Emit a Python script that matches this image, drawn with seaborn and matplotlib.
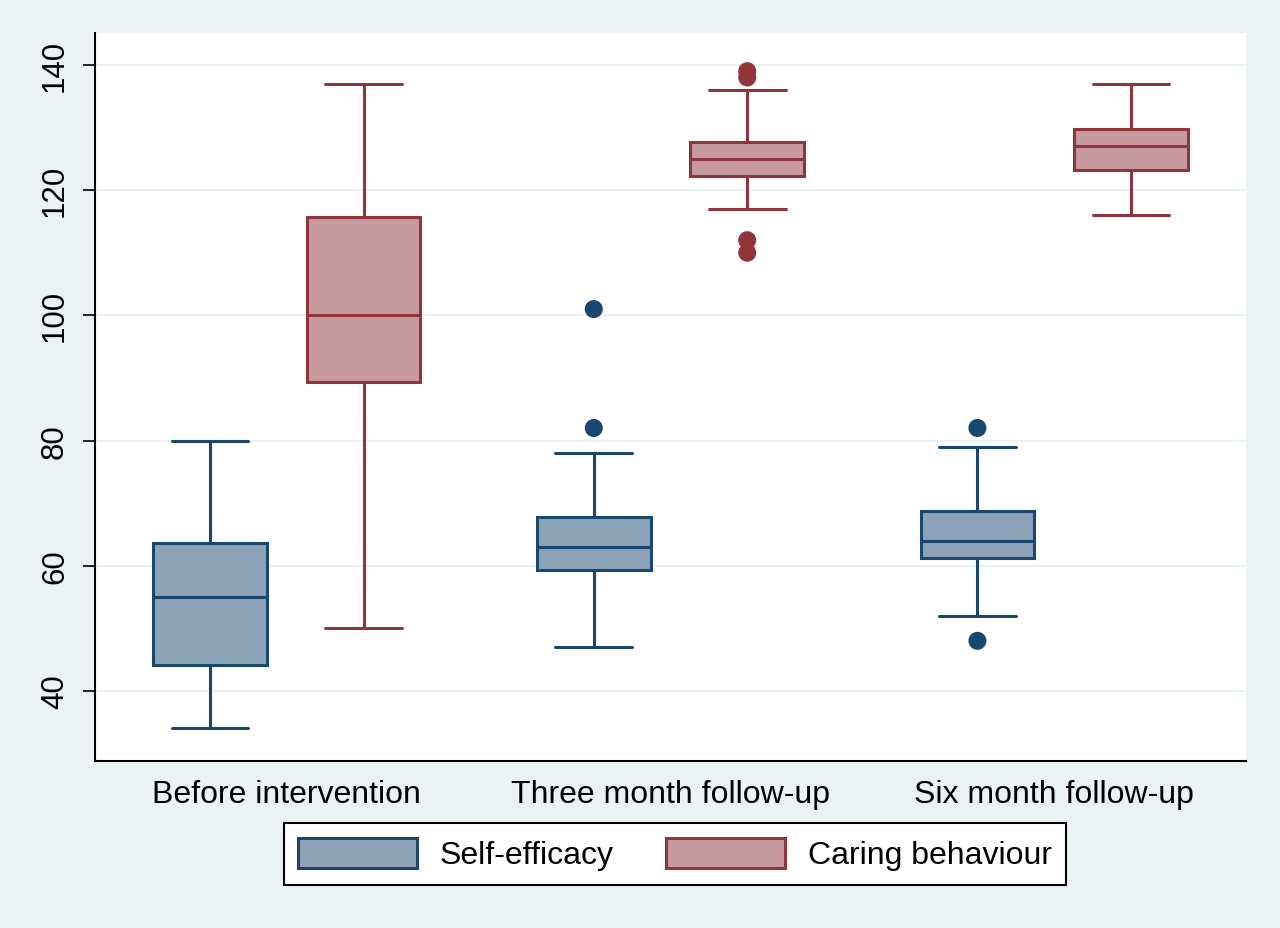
import matplotlib
matplotlib.use("Agg")
import matplotlib.pyplot as plt
from matplotlib.patches import Patch
import seaborn as sns
import pandas as pd
import numpy as np

time_points = ['Before intervention', 'Three month follow-up', 'Six month follow-up']
measures = ['Self-efficacy', 'Caring behaviour']

# box summaries: lower whisker, Q1, median, Q3, upper whisker
se_low = [34, 47, 52]
se_q1 = [44.2, 59.3, 61.2]
se_median = [55, 63, 64]
se_q3 = [63.7, 67.7, 68.7]
se_high = [80, 78, 79]

cb_low = [50, 117, 116]
cb_q1 = [89.3, 122.2, 123.2]
cb_median = [100, 125, 127]
cb_q3 = [115.7, 127.7, 129.8]
cb_high = [137, 136, 137]

# points beyond the whiskers
se_out_time = ['Three month follow-up', 'Three month follow-up',
               'Six month follow-up', 'Six month follow-up']
se_out_value = [101, 82, 82, 48]
cb_out_time = ['Three month follow-up'] * 4
cb_out_value = [139, 138, 112, 110]

navy = '#1a476f'
maroon = '#90353b'
fills = {'Self-efficacy': '#8ca3b7', 'Caring behaviour': '#c79a9d'}
edges = {'Self-efficacy': navy, 'Caring behaviour': maroon}
bg = '#eaf2f3'


def box_frame(measure, low, q1, med, q3, high):
    # five values per group, so quartiles come out exactly as read
    rows = []
    for i, t in enumerate(time_points):
        for v in (low[i], q1[i], med[i], q3[i], high[i]):
            rows.append({'time': t, 'measure': measure, 'value': v})
    return pd.DataFrame(rows)


se_df = box_frame('Self-efficacy', se_low, se_q1, se_median, se_q3, se_high)
cb_df = box_frame('Caring behaviour', cb_low, cb_q1, cb_median, cb_q3, cb_high)
out_df = pd.concat([
    pd.DataFrame({'time': se_out_time, 'measure': 'Self-efficacy', 'value': se_out_value}),
    pd.DataFrame({'time': cb_out_time, 'measure': 'Caring behaviour', 'value': cb_out_value}),
])

sns.set_style('white')
plt.rcParams['font.family'] = ['Liberation Sans', 'DejaVu Sans']
plt.rcParams['text.color'] = 'black'
plt.rcParams['xtick.color'] = 'black'
plt.rcParams['ytick.color'] = 'black'

fig = plt.figure(figsize=(12.8, 9.29), dpi=100, facecolor=bg)
ax = fig.add_axes([95 / 1280, 1 - 762 / 929, 1151 / 1280, 728 / 929])
ax.set_facecolor('white')

box_gap = 0.26
for df, m in [(se_df, 'Self-efficacy'), (cb_df, 'Caring behaviour')]:
    sns.boxplot(data=df, x='time', y='value', hue='measure', order=time_points,
                hue_order=measures, palette=fills, linecolor=edges[m], saturation=1,
                linewidth=2.2, whis=(0, 100), dodge=True, gap=box_gap, legend=False, ax=ax)

# widen whisker caps (Stata draws them at about 2/3 of the box width)
box_w = 0.4 * (1 - box_gap)
for line in ax.lines:
    xd = np.asarray(line.get_xdata(), dtype=float)
    yd = np.asarray(line.get_ydata(), dtype=float)
    if len(xd) == 2 and yd[0] == yd[1] and abs(xd[1] - xd[0]) < 0.8 * box_w:
        c = xd.mean()
        line.set_xdata([c - 0.1, c + 0.1])

sns.stripplot(data=out_df, x='time', y='value', hue='measure', order=time_points,
              hue_order=measures, palette=edges, dodge=True, jitter=False,
              size=13, linewidth=0, legend=False, ax=ax, zorder=5)

ax.set_xlim(-0.5, 2.5)
ax.set_ylim(28.8, 145.1)
ax.set_yticks([40, 60, 80, 100, 120, 140])
ax.yaxis.grid(True, color=bg, linewidth=1.6)
ax.set_axisbelow(True)
ax.set_xlabel('')
ax.set_ylabel('')

for s in ['top', 'right']:
    ax.spines[s].set_visible(False)
for s in ['left', 'bottom']:
    ax.spines[s].set_color('black')
    ax.spines[s].set_linewidth(1.5)

ax.tick_params(axis='x', length=0, pad=13, labelsize=23, labelcolor='black')
ax.tick_params(axis='y', length=9, width=1.2, color='black', pad=9, labelsize=22.5,
               labelcolor='black', left=True, direction='out')
for lab in ax.get_yticklabels():
    lab.set_rotation(90)
    lab.set_va('center')

handles = [Patch(facecolor=fills[m], edgecolor=edges[m], linewidth=2.2, label=m)
           for m in measures]
leg = fig.legend(handles=handles, loc='center', bbox_to_anchor=(675 / 1280, 1 - 855 / 929),
                 ncol=2, fontsize=23, frameon=True, fancybox=False, framealpha=1,
                 edgecolor='black', handlelength=3.72, handleheight=1.07,
                 handletextpad=0.7, columnspacing=1.65, borderpad=0.45)
leg.get_frame().set_linewidth(1.5)

fig.savefig('out.png', dpi=100, facecolor=bg)
